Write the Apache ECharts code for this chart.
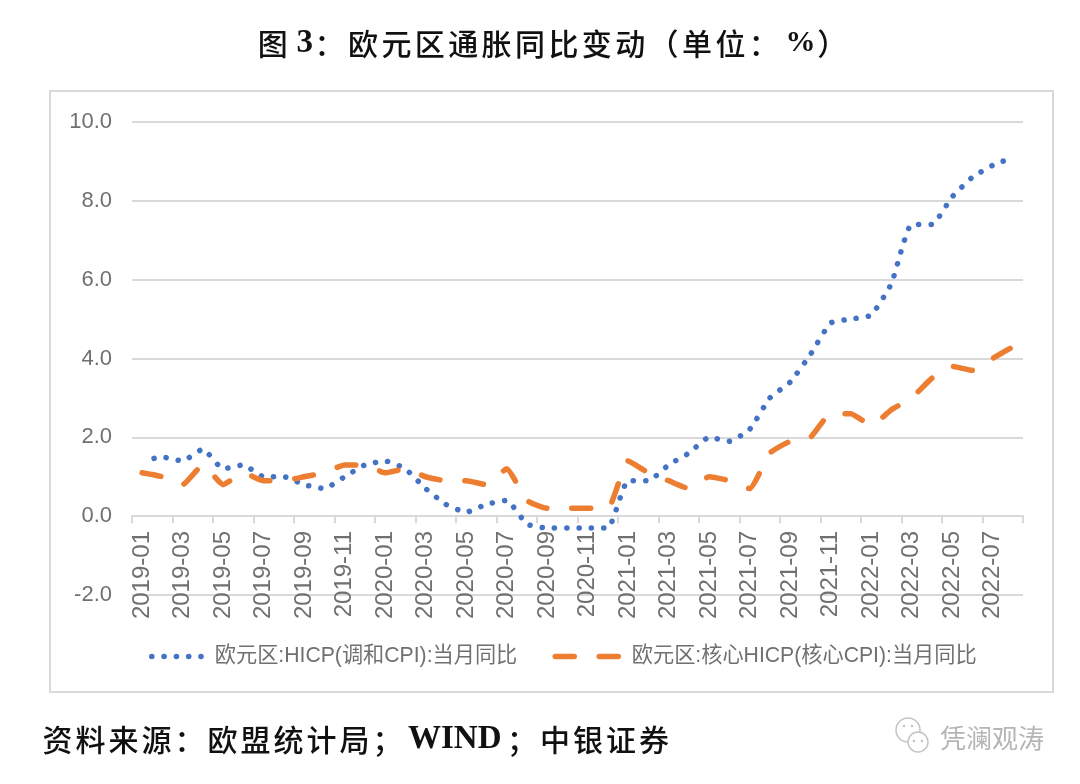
<!DOCTYPE html>
<html>
<head>
<meta charset="utf-8">
<title>欧元区通胀同比变动</title>
<script src="https://cdn.jsdelivr.net/npm/echarts@6/dist/echarts.min.js"></script>
<style>
html,body{margin:0;padding:0;background:#fff}
#main{width:1080px;height:784px}
</style>
</head>
<body>
<div id="main"></div>
<script>
var months = ['2019-01','2019-02','2019-03','2019-04','2019-05','2019-06','2019-07','2019-08','2019-09','2019-10','2019-11','2019-12',
              '2020-01','2020-02','2020-03','2020-04','2020-05','2020-06','2020-07','2020-08','2020-09','2020-10','2020-11','2020-12',
              '2021-01','2021-02','2021-03','2021-04','2021-05','2021-06','2021-07','2021-08','2021-09','2021-10','2021-11','2021-12',
              '2022-01','2022-02','2022-03','2022-04','2022-05','2022-06','2022-07','2022-08'];
var hicp = [1.4,1.5,1.4,1.7,1.2,1.3,1.0,1.0,0.8,0.7,1.0,1.3,
            1.4,1.2,0.7,0.3,0.1,0.3,0.4,-0.2,-0.3,-0.3,-0.3,-0.3,
            0.9,0.9,1.3,1.6,2.0,1.9,2.2,3.0,3.4,4.1,4.9,5.0,
            5.1,5.9,7.4,7.4,8.1,8.6,8.9,9.1];
var core = [1.1,1.0,0.8,1.3,0.8,1.1,0.9,0.9,1.0,1.1,1.3,1.3,
            1.1,1.2,1.0,0.9,0.9,0.8,1.2,0.4,0.2,0.2,0.2,0.2,
            1.4,1.1,0.9,0.7,1.0,0.9,0.7,1.6,1.9,2.0,2.6,2.6,
            2.3,2.7,3.0,3.5,3.8,3.7,4.0,4.3];
var hicpName = '欧元区:HICP(调和CPI):当月同比';
var coreName = '欧元区:核心HICP(核心CPI):当月同比';

var myChart = echarts.init(document.getElementById('main'));
var cjk = '"Noto Sans CJK SC"';
var serif = '"Liberation Serif"';
var grey = '#707070';
var line = '#d9d9d9';
var hicpDots = [0.1, 12.2];
var coreDash = [19, 25];

// 逐字包一层 rich，用 padding 拉开字距
function spaced(str) {
    return str.split('').map(function (c) { return '{c|' + c + '}'; }).join('');
}
function latin(size, left, right) {
    return {fontSize: size, fontWeight: 'bold', fontFamily: serif, color: '#111', padding: [0, right, 0, left]};
}
function cell(pad) {
    return {fontSize: 30, fontWeight: 500, fontFamily: cjk, color: '#111', padding: [0, pad, 0, pad]};
}

var option = {
    animation: false,
    backgroundColor: '#fff',
    title: [{
        text: spaced('图') + '{n|3}' + spaced('：欧元区通胀同比变动（单位：') + '{p|%}' + spaced('）'),
        left: 251, top: 22,
        textStyle: {
            fontSize: 30, fontFamily: cjk,
            rich: {c: cell(1.7), n: latin(33, 7, 0), p: latin(30, 5, 0)}
        }
    }, {
        text: spaced('资料来源：欧盟统计局；') + '{w|WIND}' + spaced('；中银证券'),
        left: 36, top: 718,
        textStyle: {
            fontSize: 30, fontFamily: cjk,
            rich: {c: cell(1.5), w: latin(33, 4, 4)}
        }
    }, {
        text: '凭澜观涛',
        left: 935, top: 720,
        textStyle: {color: '#b5b5b5', fontSize: 26, fontWeight: 'normal', fontFamily: cjk}
    }],
    graphic: [
        {type: 'rect', silent: true, shape: {x: 50, y: 91, width: 1003, height: 601}, style: {fill: 'none', stroke: line, lineWidth: 2}},
        // 公众号水印图标
        {type: 'circle', silent: true, shape: {cx: 908, cy: 730, r: 12}, style: {fill: '#fff', stroke: '#c4c4c4', lineWidth: 1.5}},
        {type: 'circle', silent: true, shape: {cx: 918, cy: 742, r: 10}, style: {fill: '#fff', stroke: '#c4c4c4', lineWidth: 1.5}},
        {type: 'circle', silent: true, shape: {cx: 914, cy: 741, r: 1.3}, style: {fill: '#c4c4c4'}},
        {type: 'circle', silent: true, shape: {cx: 922, cy: 741, r: 1.3}, style: {fill: '#c4c4c4'}},
        {type: 'circle', silent: true, shape: {cx: 904, cy: 726, r: 1.3}, style: {fill: '#c4c4c4'}},
        {type: 'circle', silent: true, shape: {cx: 912, cy: 726, r: 1.3}, style: {fill: '#c4c4c4'}}
    ],
    legend: [{
        data: [hicpName], left: 149, top: 646, padding: 0, itemWidth: 51, itemHeight: 14, itemGap: 0,
        itemStyle: {opacity: 0},
        lineStyle: {color: '#4472c4', width: 5.5, type: hicpDots, dashOffset: 0, cap: 'round', opacity: 1},
        textStyle: {color: grey, fontSize: 21.2, fontFamily: '"Liberation Sans",' + cjk, padding: [0, 0, 0, 7]}
    }, {
        data: [coreName], left: 552.5, top: 646, padding: 0, itemWidth: 65, itemHeight: 14, itemGap: 0,
        itemStyle: {opacity: 0},
        lineStyle: {color: '#ed7d31', width: 5.5, type: coreDash, cap: 'round', opacity: 1},
        textStyle: {color: grey, fontSize: 21.2, fontFamily: '"Liberation Sans",' + cjk, padding: [0, 0, 0, 6.5]}
    }],
    grid: {left: 132, right: 57, top: 122, height: 473},
    xAxis: {
        type: 'category',
        data: months,
        boundaryGap: true,
        axisLine: {onZero: true, lineStyle: {color: line, width: 2}},
        axisTick: {show: true, interval: 1, length: 7, lineStyle: {color: line, width: 2}},
        axisLabel: {interval: 1, rotate: 90, margin: -64, color: grey, fontSize: 24, fontFamily: '"Liberation Sans"'}
    },
    yAxis: {
        type: 'value',
        min: -2, max: 10, interval: 2,
        axisLine: {show: false},
        axisTick: {show: false},
        axisLabel: {
            margin: 20, color: grey, fontSize: 22, fontFamily: '"Liberation Sans"',
            formatter: function (v) { return v.toFixed(1); }
        },
        splitLine: {lineStyle: {color: line, width: 2}}
    },
    series: [{
        name: hicpName, type: 'line', data: hicp, smooth: 0.15, symbol: 'none', z: 2,
        itemStyle: {color: '#4472c4'},
        lineStyle: {color: '#4472c4', width: 5.5, type: hicpDots, dashOffset: 0.2, cap: 'round', join: 'round'}
    }, {
        name: coreName, type: 'line', data: core, smooth: 0.15, symbol: 'none', z: 3,
        itemStyle: {color: '#ed7d31'},
        lineStyle: {color: '#ed7d31', width: 5.5, type: coreDash, cap: 'round', join: 'round'}
    }]
};
myChart.setOption(option);
</script>
</body>
</html>
